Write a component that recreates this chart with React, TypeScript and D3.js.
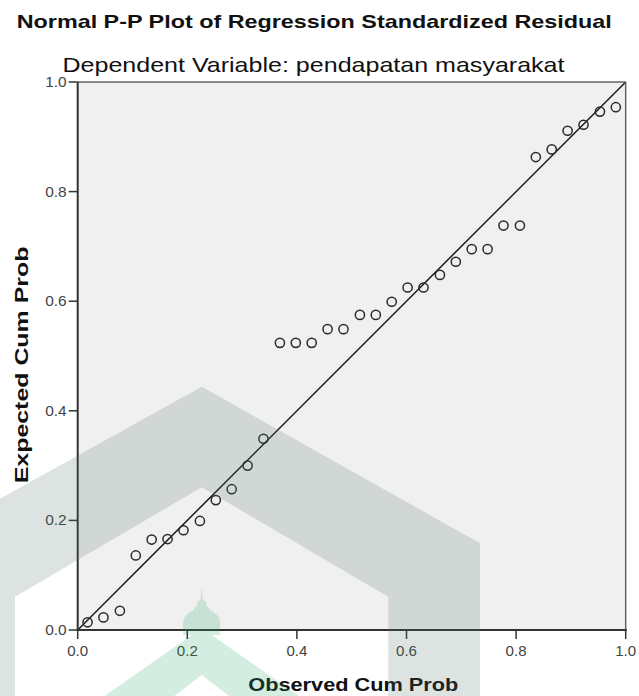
import React from "react";
import { scaleLinear, format } from "d3";

// observed vs expected cumulative probabilities
const observedCumProb = [0.018, 0.047, 0.077, 0.106, 0.135, 0.164, 0.193, 0.223, 0.252, 0.281, 0.310, 0.339, 0.369, 0.398, 0.427, 0.456, 0.485, 0.515, 0.544, 0.573, 0.602, 0.631, 0.661, 0.690, 0.719, 0.748, 0.777, 0.807, 0.836, 0.865, 0.894, 0.923, 0.953, 0.982];
const expectedCumProb = [0.014, 0.023, 0.035, 0.136, 0.165, 0.166, 0.182, 0.199, 0.237, 0.257, 0.300, 0.349, 0.524, 0.524, 0.524, 0.549, 0.549, 0.575, 0.575, 0.599, 0.625, 0.625, 0.648, 0.672, 0.695, 0.695, 0.738, 0.738, 0.863, 0.877, 0.911, 0.922, 0.946, 0.954];
const tickValues = [0, 0.2, 0.4, 0.6, 0.8, 1.0];
const titleText = "Normal P-P Plot of Regression Standardized Residual";
const subtitleText = "Dependent Variable: pendapatan masyarakat";
const xLabel = "Observed Cum Prob";
const yLabel = "Expected Cum Prob";

const W = 639, H = 696;
const plot = { left: 77.7, right: 625.7, top: 82, bottom: 630 };
const font = "Arial, 'Liberation Sans', sans-serif";

// watermark drawn over the chart (semi transparent)
function Watermark() {
    const cx = 201.7;
    const grey = [
        [cx, 386.7], [480, 543.3], [480, H], [388.3, H], [388.3, 596.7],
        [cx, 487.3], [15, 596.7], [15, H], [-80, H], [-80, 543.3]
    ];
    const green = [
        [cx, 628], [cx + 100, 698], [cx + 30, 698], [cx, 675], [cx - 30, 698], [cx - 100, 698]
    ];
    const pts = (p: number[][]) => p.map(d => d.join(",")).join(" ");
    return (
        <g style={{ pointerEvents: "none" }}>
            <g opacity={0.2} fill="rgb(80,115,105)">
                <polygon points={pts(grey)} />
            </g>
            <g opacity={0.2} fill="rgb(45,170,110)">
                <polygon points={pts(green)} />
                <ellipse cx={cx} cy={623} rx={18.5} ry={14} />
                <rect x={cx - 18.5} y={623} width={37} height={12} />
                <ellipse cx={cx} cy={610} rx={8} ry={5} />
                <ellipse cx={cx} cy={604} rx={5} ry={4} />
                <polygon points={`${cx - 1.3},604 ${cx},585 ${cx + 1.3},604`} />
            </g>
        </g>
    );
}

export default function App() {
    const x = scaleLinear().domain([0, 1]).range([plot.left, plot.right]);
    const y = scaleLinear().domain([0, 1]).range([plot.bottom, plot.top]);
    const fmt = format(".1f");
    const points = observedCumProb.map((d, i) => ({ o: d, e: expectedCumProb[i] }));

    return (
        <div style={{ position: "absolute", left: 0, top: 0 }}>
            <svg width={W} height={H} style={{ display: "block", background: "#fff" }} fontFamily={font}>
                <rect x={plot.left} y={plot.top} width={plot.right - plot.left} height={plot.bottom - plot.top} fill="#f0f0f0" />

                <text x={16.7} y={27.5} fontSize={19} fontWeight="bold" fill="#111" textLength={595} lengthAdjust="spacingAndGlyphs">{titleText}</text>
                <text x={62.5} y={71.5} fontSize={21} fill="#111" textLength={502} lengthAdjust="spacingAndGlyphs">{subtitleText}</text>

                {/* reference diagonal */}
                <line x1={x(0)} y1={y(0)} x2={x(1)} y2={y(1)} stroke="#1a1a1a" strokeWidth={1.5} />

                {points.map((d, i) => (
                    <circle key={i} cx={x(d.o)} cy={y(d.e)} r={4.6} fill="none" stroke="#2a2a2a" strokeWidth={1.5} />
                ))}

                {/* frame */}
                <line x1={plot.left} y1={plot.top} x2={plot.right} y2={plot.top} stroke="#666" strokeWidth={1.5} />
                <line x1={plot.right} y1={plot.top} x2={plot.right} y2={plot.bottom} stroke="#666" strokeWidth={1.5} />
                <line x1={plot.left} y1={plot.top} x2={plot.left} y2={plot.bottom + 1} stroke="#333" strokeWidth={2} />
                <line x1={plot.left - 1} y1={plot.bottom} x2={plot.right + 1} y2={plot.bottom} stroke="#333" strokeWidth={2} />

                {tickValues.map(t => (
                    <g key={"x" + t}>
                        <line x1={x(t)} x2={x(t)} y1={plot.bottom} y2={plot.bottom + 9} stroke="#333" strokeWidth={1.5} />
                        <text x={x(t)} y={655.5} fontSize={14.5} fill="#444" textAnchor="middle" textLength={21} lengthAdjust="spacingAndGlyphs">{fmt(t)}</text>
                    </g>
                ))}
                {tickValues.map(t => (
                    <g key={"y" + t}>
                        <line x1={plot.left - 9} x2={plot.left} y1={y(t)} y2={y(t)} stroke="#333" strokeWidth={1.5} />
                        <text x={66.7} y={y(t) + 5} fontSize={14.5} fill="#444" textAnchor="end" textLength={21.5} lengthAdjust="spacingAndGlyphs">{fmt(t)}</text>
                    </g>
                ))}

                <text x={248.3} y={690.5} fontSize={18} fontWeight="bold" fill="#111" textLength={210} lengthAdjust="spacingAndGlyphs">{xLabel}</text>
                <text transform="rotate(-90)" x={-483.3} y={27.5} fontSize={18.5} fontWeight="bold" fill="#111" textLength={236.7} lengthAdjust="spacingAndGlyphs">{yLabel}</text>

                <Watermark />
            </svg>
        </div>
    );
}
